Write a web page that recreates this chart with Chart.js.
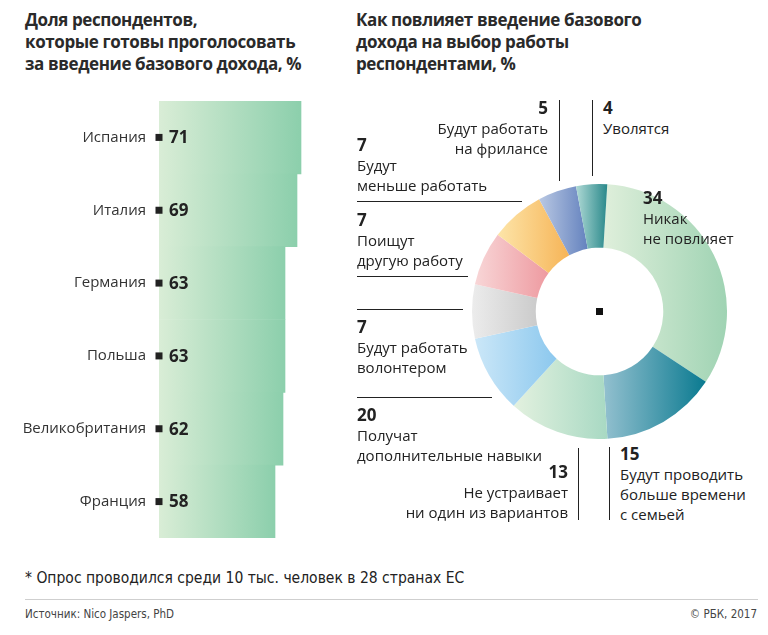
<!DOCTYPE html>
<html>
<head>
<meta charset="utf-8">
<title>Базовый доход</title>
<script src="https://cdn.jsdelivr.net/npm/chart.js@4.4.0/dist/chart.umd.min.js"></script>
<style>
body { margin: 0; width: 768px; height: 635px; position: relative; overflow: hidden; background: #fff;
       font-family: "Open Sans", "Noto Sans", sans-serif; color: #222; }
.title { position: absolute; top: 9px; font-weight: 700; font-size: 17px; line-height: 22px; letter-spacing: -0.4px; color: #2a2a2a; }
#barBox { position: absolute; left: 0; top: 101px; width: 359px; height: 437px; }
#pieBox { position: absolute; left: 472px; top: 184px; width: 255px; height: 255px; }
.note { position: absolute; font-size: 15px; line-height: 20px; white-space: nowrap; }
.note b { display: block; font-size: 17px; }
.rule { position: absolute; background: #222; }
.foot { position: absolute; font-family: "Liberation Sans Narrow", "DejaVu Sans Condensed", sans-serif; }
</style>
</head>
<body>

<div class="title" style="left:25px">Доля респондентов,<br>которые готовы проголосовать<br>за введение базового дохода, %</div>
<div class="title" style="left:356px">Как повлияет введение базового<br>дохода на выбор работы<br>респондентами, %</div>

<div id="barBox"><canvas id="barChart"></canvas></div>
<div id="pieBox"><canvas id="pieChart"></canvas></div>
<div id="notes"></div>

<div class="foot" style="left:25px; top:569px; font-size:15.5px; color:#222">* Опрос проводился среди 10 тыс. человек в 28 странах ЕС</div>
<div style="position:absolute; left:25px; top:599px; width:733px; height:1px; background:#cfcfcf"></div>
<div class="foot" style="left:25px; top:607px; font-size:11.5px; color:#444">Источник: Nico Jaspers, PhD</div>
<div class="foot" style="right:11px; top:607px; font-size:11.5px; color:#444">© РБК, 2017</div>

<script>
// левая часть: готовы проголосовать, %
const countries = ['Испания', 'Италия', 'Германия', 'Польша', 'Великобритания', 'Франция'];
const supportShare = [71, 69, 63, 63, 62, 58];

// правая часть: как повлияет на выбор работы, %
const outcomeNames = [
    'Никак<br>не повлияет',
    'Будут проводить<br>больше времени<br>с семьей',
    'Не устраивает<br>ни один из вариантов',
    'Получат<br>дополнительные навыки',
    'Будут работать<br>волонтером',
    'Поищут<br>другую работу',
    'Будут<br>меньше работать',
    'Будут работать<br>на фрилансе',
    'Уволятся'
];
const outcomeShare = [34, 15, 13, 20, 7, 7, 7, 5, 4];
// размеры секторов, как они нарисованы в оригинале (сектор «20» там нарисован как ~10)
const sliceSize = [34, 15, 13, 10, 7, 7, 7, 5, 4];

const barLight = '#d9edd6', barDark = '#8ccfac';
const sliceLight = ['#dfefdb', '#93c0cf', '#e3f1df', '#cbe7f8', '#ececec', '#f8d6d7', '#fde5a9', '#b9c8e3', '#afd9d5'];
const sliceDark  = ['#9fd3b3', '#0a7a90', '#a8d9c3', '#8cc8ee', '#cbcbcb', '#ee9aa0', '#f6b457', '#6482be', '#2a898b'];

// подписи к сектору: где стоит текст и линия-выноска
const noteLayout = [
    { left: 643, top: 188 },
    { left: 620, top: 444, line: { x: 609, y: 447, w: 1, h: 73 } },
    { right: 568, top: 462, line: { x: 578, y: 448, w: 1, h: 72 } },
    { left: 357, top: 405, line: { x: 357, y: 397, w: 135, h: 1 } },
    { left: 357, top: 317, line: { x: 357, y: 309, w: 106, h: 1 } },
    { left: 357, top: 210, line: { x: 357, y: 276, w: 111, h: 1 } },
    { left: 357, top: 135, line: { x: 357, y: 201, w: 165, h: 1 } },
    { right: 548, top: 98, line: { x: 559, y: 100, w: 1, h: 81 } },
    { left: 603, top: 98, line: { x: 592, y: 100, w: 1, h: 76 } }
];

const notes = document.getElementById('notes');
outcomeShare.forEach((v, i) => {
    const pos = noteLayout[i];
    const d = document.createElement('div');
    d.className = 'note';
    d.style.top = pos.top + 'px';
    if (pos.right !== undefined) {
        d.style.right = (768 - pos.right) + 'px';
        d.style.textAlign = 'right';
    } else {
        d.style.left = pos.left + 'px';
    }
    d.innerHTML = '<b>' + v + '</b>' + outcomeNames[i];
    notes.appendChild(d);
    if (pos.line) {
        const r = document.createElement('div');
        r.className = 'rule';
        r.style.cssText += `left:${pos.line.x}px;top:${pos.line.y}px;width:${pos.line.w}px;height:${pos.line.h}px`;
        notes.appendChild(r);
    }
});

// квадратик и значение у основания каждого столбца
const barMarks = {
    id: 'barMarks',
    afterDatasetsDraw(chart) {
        const c = chart.ctx;
        c.save();
        c.fillStyle = '#222';
        c.font = '700 17px "Open Sans"';
        c.textBaseline = 'middle';
        chart.getDatasetMeta(0).data.forEach((bar, i) => {
            c.fillRect(bar.base - 3.5, bar.y - 3.5, 7, 7);
            c.fillText(supportShare[i], bar.base + 10, bar.y + 1);
        });
        c.restore();
    }
};

new Chart(document.getElementById('barChart'), {
    type: 'bar',
    data: {
        labels: countries,
        datasets: [{
            data: supportShare,
            borderWidth: 0,
            barPercentage: 1,
            categoryPercentage: 1,
            backgroundColor: ctx => {
                const chart = ctx.chart;
                if (!chart.chartArea) return barDark;
                const xs = chart.scales.x;
                const g = chart.ctx.createLinearGradient(xs.getPixelForValue(0), 0, xs.getPixelForValue(ctx.raw), 0);
                g.addColorStop(0, barLight);
                g.addColorStop(1, barDark);
                return g;
            }
        }]
    },
    options: {
        indexAxis: 'y',
        responsive: true,
        maintainAspectRatio: false,
        animation: false,
        layout: { padding: 0, autoPadding: false },
        plugins: { legend: { display: false }, tooltip: { enabled: false } },
        scales: {
            x: { min: 0, max: 100, display: false },
            y: {
                grid: { display: false, drawTicks: false },
                border: { display: false },
                ticks: { padding: 13, color: '#333', font: { family: 'Open Sans', size: 15 } },
                afterFit: s => { s.width = 159; s.paddingTop = 0; s.paddingBottom = 0; }
            }
        }
    },
    plugins: [barMarks]
});

// горизонтальный градиент внутри каждого сектора + точка в центре
const sliceGradient = {
    id: 'sliceGradient',
    beforeDatasetsDraw(chart) {
        chart.getDatasetMeta(0).data.forEach((arc, i) => {
            const p = arc.getProps(['x', 'y', 'startAngle', 'endAngle', 'innerRadius', 'outerRadius'], true);
            let lo = Infinity, hi = -Infinity;
            for (let k = 0; k <= 24; k++) {
                const a = p.startAngle + (p.endAngle - p.startAngle) * k / 24;
                [p.innerRadius, p.outerRadius].forEach(r => {
                    const px = p.x + r * Math.cos(a);
                    lo = Math.min(lo, px);
                    hi = Math.max(hi, px);
                });
            }
            const g = chart.ctx.createLinearGradient(lo, 0, hi, 0);
            g.addColorStop(0, sliceLight[i]);
            g.addColorStop(1, sliceDark[i]);
            arc.options.backgroundColor = g;
        });
    },
    afterDatasetsDraw(chart) {
        const arc = chart.getDatasetMeta(0).data[0];
        chart.ctx.fillStyle = '#111';
        chart.ctx.fillRect(arc.x - 3.5, arc.y - 3.5, 7, 7);
    }
};

new Chart(document.getElementById('pieChart'), {
    type: 'doughnut',
    data: {
        labels: outcomeShare.map(String),
        datasets: [{ data: sliceSize, backgroundColor: sliceLight, borderWidth: 0 }]
    },
    options: {
        responsive: true,
        maintainAspectRatio: false,
        animation: false,
        rotation: 3.5,
        cutout: '50%',
        layout: { padding: 0 },
        plugins: { legend: { display: false }, tooltip: { enabled: false } }
    },
    plugins: [sliceGradient]
});
</script>
</body>
</html>
